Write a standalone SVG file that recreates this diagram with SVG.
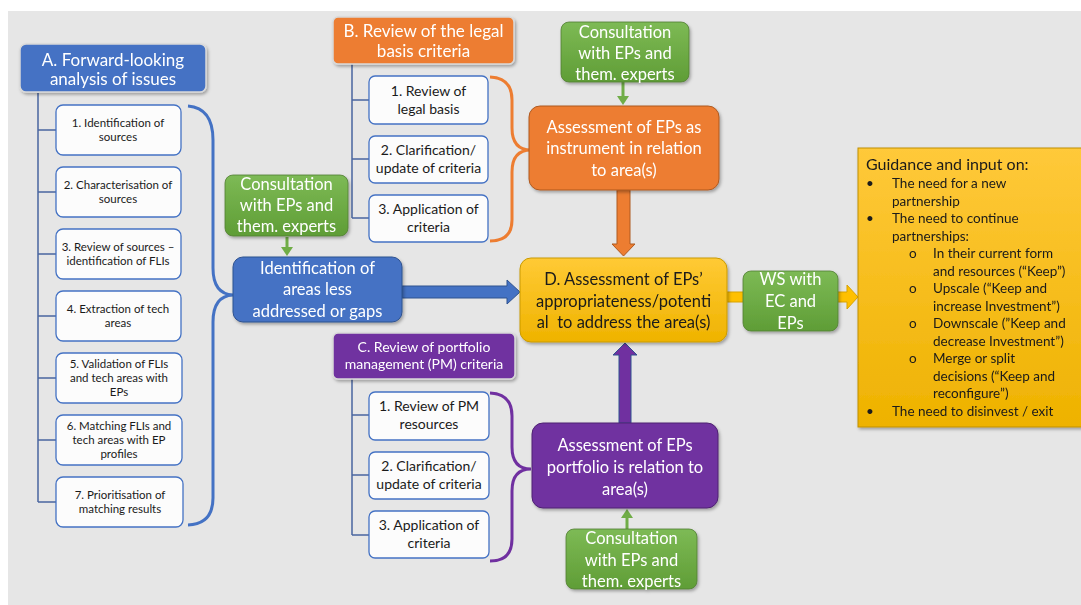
<svg xmlns="http://www.w3.org/2000/svg" width="1081" height="605" viewBox="0 0 1081 605">
<defs>
<linearGradient id="gGreen" x1="0" y1="0" x2="0" y2="1"><stop offset="0" stop-color="#7dba55"/><stop offset="1" stop-color="#5f9d36"/></linearGradient>
<linearGradient id="gYellow" x1="0" y1="0" x2="0" y2="1"><stop offset="0" stop-color="#ffca35"/><stop offset="1" stop-color="#efb300"/></linearGradient>
<linearGradient id="gGuide" x1="0" y1="0" x2="0" y2="1"><stop offset="0" stop-color="#ffc93a"/><stop offset="1" stop-color="#eeb200"/></linearGradient>
<filter id="sh" x="-10%" y="-10%" width="125%" height="130%"><feDropShadow dx="1.5" dy="2" stdDeviation="1.5" flood-color="#000" flood-opacity="0.3"/></filter>
<style>
text{font-family:Lato,"Liberation Sans",sans-serif;text-anchor:middle}
.w{fill:#fff}
.k{fill:#1a1a1a}
.blue{fill:#4472c4;stroke:#2f528f;stroke-width:1}
.orange{fill:#ed7d31;stroke:#ae5a21;stroke-width:1}
.purple{fill:#7030a0;stroke:#4e2272;stroke-width:1}
.green{fill:url(#gGreen);stroke:#507e32;stroke-width:0.8}
.hdr{stroke:#d9d9d9;stroke-width:1.5}
.sbox{fill:#fcfcfc;stroke:#4472c4;stroke-width:1.3}
.tree{fill:none;stroke:#4a66a0;stroke-width:1.5}
.f17{font-size:17px}
.f16{font-size:16.5px}
.f14{font-size:14px}
.f11{font-size:11.5px}
.g{font-size:13.5px;text-anchor:start;fill:#1a1a1a}
</style>
</defs>
<rect x="0" y="0" width="1081" height="605" fill="#ffffff"/>
<rect x="8" y="11" width="1073" height="594" fill="#e6e6e6"/>

<g id="connectors">
<path class="tree" d="M38,93 V502 M38,130 H56 M38,192 H56 M38,254 H56 M38,316 H56 M38,378 H56 M38,440 H56 M38,502 H56"/>
<path class="tree" d="M352,64 V218 M352,100 H369 M352,159 H369 M352,218 H369"/>
<path class="tree" d="M352,379 V535 M352,415 H369 M352,475 H369 M352,535 H369"/>
<path d="M188,106 Q213,108 213,140 V268 Q213,294 233,295 Q213,296 213,322 V498 Q213,524 188,525" fill="none" stroke="#4472c4" stroke-width="3"/>
<path d="M490,77 Q512,78 512,100 V128 Q512,150 531,150 Q512,150 512,172 V220 Q512,241 490,241" fill="none" stroke="#ed7d31" stroke-width="3"/>
<path d="M490,393 Q512,394 512,416 V447 Q512,469 531,469 Q512,469 512,491 V539 Q512,561 490,561" fill="none" stroke="#7030a0" stroke-width="3"/>
<polygon points="402,286 507,286 507,280 520,292 507,304 507,298 402,298" fill="#4472c4" stroke="#2f528f" stroke-width="1"/>
<polygon points="617,190 630,190 630,244 635,244 623.5,256 612,244 617,244" fill="#ed7d31" stroke="#ae5a21" stroke-width="1"/>
<polygon points="619,423 631,423 631,355 637,355 625,343 613,355 619,355" fill="#7030a0" stroke="#2f528f" stroke-width="1"/>
<polygon points="727,292 847,292 847,285 858,297 847,309 847,302 727,302" fill="#ffc000" stroke="#d9a300" stroke-width="1"/>
<path d="M287,237 V248 M623,82 V97 M627,529 V517" stroke="#70ad47" stroke-width="3" fill="none"/>
<polygon points="281,247 293,247 287,256" fill="#70ad47"/>
<polygon points="617,96 629,96 623,105" fill="#70ad47"/>
<polygon points="621,518 633,518 627,509" fill="#70ad47"/>
</g>

<g id="nodeA" filter="url(#sh)">
<rect x="20" y="44" width="186" height="48" rx="6" class="blue hdr"/>
<text class="w f17" x="113" y="66">A. Forward-looking</text>
<text class="w f17" x="113" y="85">analysis of issues</text>
</g>
<g id="a1"><rect x="56" y="105" width="125" height="50" rx="7" class="sbox"/><text class="k f11" x="118" y="127">1. Identification of</text><text class="k f11" x="118" y="141">sources</text></g>
<g id="a2"><rect x="56" y="167" width="125" height="50" rx="7" class="sbox"/><text class="k f11" x="118" y="189">2. Characterisation of</text><text class="k f11" x="118" y="203">sources</text></g>
<g id="a3"><rect x="56" y="229" width="125" height="50" rx="7" class="sbox"/><text class="k f11" x="118" y="251">3. Review of sources –</text><text class="k f11" x="118" y="265">identification of FLIs</text></g>
<g id="a4"><rect x="56" y="291" width="125" height="50" rx="7" class="sbox"/><text class="k f11" x="118" y="313">4. Extraction of tech</text><text class="k f11" x="118" y="327">areas</text></g>
<g id="a5"><rect x="56" y="353" width="126" height="50" rx="7" class="sbox"/><text class="k f11" x="119" y="368">5. Validation of FLIs</text><text class="k f11" x="119" y="382">and tech areas with</text><text class="k f11" x="119" y="396">EPs</text></g>
<g id="a6"><rect x="56" y="415" width="126" height="50" rx="7" class="sbox"/><text class="k f11" x="119" y="430">6. Matching FLIs and</text><text class="k f11" x="119" y="444">tech areas with EP</text><text class="k f11" x="119" y="458">profiles</text></g>
<g id="a7"><rect x="56" y="477" width="127" height="50" rx="7" class="sbox"/><text class="k f11" x="120" y="499">7. Prioritisation of</text><text class="k f11" x="120" y="513">matching results</text></g>

<g id="consultLeft" filter="url(#sh)">
<rect x="225" y="175" width="123" height="61" rx="8" class="green"/>
<text class="w f16" x="286.5" y="190">Consultation</text>
<text class="w f16" x="286.5" y="211">with EPs and</text>
<text class="w f16" x="286.5" y="232">them. experts</text>
</g>
<g id="identification" filter="url(#sh)">
<rect x="233" y="257" width="169" height="65" rx="10" class="blue"/>
<text class="w f16" x="317.5" y="274">Identification of</text>
<text class="w f16" x="317.5" y="295">areas less</text>
<text class="w f16" x="317.5" y="317">addressed or gaps</text>
</g>

<g id="nodeB" filter="url(#sh)">
<rect x="333" y="17" width="181" height="47" rx="5" class="orange hdr"/>
<text class="w f17" x="423.5" y="37">B. Review of the legal</text>
<text class="w f17" x="423.5" y="57">basis criteria</text>
</g>
<g id="b1"><rect x="369" y="76" width="119" height="48" rx="6" class="sbox"/><text class="k f14" x="428.5" y="96">1. Review of</text><text class="k f14" x="428.5" y="114">legal basis</text></g>
<g id="b2"><rect x="369" y="136" width="119" height="47" rx="6" class="sbox"/><text class="k f14" x="428.5" y="155">2. Clarification/</text><text class="k f14" x="428.5" y="173">update of criteria</text></g>
<g id="b3"><rect x="369" y="195" width="119" height="47" rx="6" class="sbox"/><text class="k f14" x="428.5" y="214">3. Application of</text><text class="k f14" x="428.5" y="232">criteria</text></g>

<g id="consultTop" filter="url(#sh)">
<rect x="561" y="22" width="128" height="60" rx="8" class="green"/>
<text class="w f16" x="625" y="38">Consultation</text>
<text class="w f16" x="625" y="59">with EPs and</text>
<text class="w f16" x="625" y="80">them. experts</text>
</g>
<g id="assessInstrument" filter="url(#sh)">
<rect x="529" y="106" width="190" height="84" rx="11" class="orange"/>
<text class="w f16" x="624" y="133">Assessment of EPs as</text>
<text class="w f16" x="624" y="154">instrument in relation</text>
<text class="w f16" x="624" y="176">to area(s)</text>
</g>

<g id="nodeD" filter="url(#sh)">
<rect x="520" y="258" width="207" height="84" rx="11" fill="url(#gYellow)" stroke="#c99a00" stroke-width="1"/>
<text class="k f16" x="623.5" y="285">D. Assessment of EPs’</text>
<text class="k f16" x="623.5" y="307">appropriateness/potenti</text>
<text class="k f16" x="623.5" y="328" xml:space="preserve">al  to address the area(s)</text>
</g>
<g id="ws" filter="url(#sh)">
<rect x="743" y="271" width="95" height="60" rx="8" class="green"/>
<text class="w f16" x="790.5" y="285">WS with</text>
<text class="w f16" x="790.5" y="307">EC and</text>
<text class="w f16" x="790.5" y="329">EPs</text>
</g>

<g id="nodeC" filter="url(#sh)">
<rect x="333" y="333" width="182" height="46" rx="5" class="purple hdr"/>
<text class="w f14" x="424" y="352">C. Review of portfolio</text>
<text class="w f14" x="424" y="369">management (PM) criteria</text>
</g>
<g id="c1"><rect x="369" y="392" width="120" height="48" rx="6" class="sbox"/><text class="k f14" x="429" y="411">1. Review of PM</text><text class="k f14" x="429" y="429">resources</text></g>
<g id="c2"><rect x="369" y="452" width="120" height="47" rx="6" class="sbox"/><text class="k f14" x="429" y="471">2. Clarification/</text><text class="k f14" x="429" y="489">update of criteria</text></g>
<g id="c3"><rect x="369" y="511" width="120" height="47" rx="6" class="sbox"/><text class="k f14" x="429" y="530">3. Application of</text><text class="k f14" x="429" y="548">criteria</text></g>

<g id="assessPortfolio" filter="url(#sh)">
<rect x="532" y="423" width="186" height="85" rx="11" class="purple"/>
<text class="w f16" x="625" y="451">Assessment of EPs</text>
<text class="w f16" x="625" y="473">portfolio is relation to</text>
<text class="w f16" x="625" y="495">area(s)</text>
</g>
<g id="consultBottom" filter="url(#sh)">
<rect x="566" y="529" width="131" height="60" rx="8" class="green"/>
<text class="w f16" x="631.5" y="544">Consultation</text>
<text class="w f16" x="631.5" y="566">with EPs and</text>
<text class="w f16" x="631.5" y="587">them. experts</text>
</g>

<g id="guidance" filter="url(#sh)">
<rect x="858" y="148" width="225" height="279" fill="url(#gGuide)" stroke="#c09000" stroke-width="1"/>
<text x="866" y="170" style="font-size:16px;text-anchor:start;fill:#1a1a1a">Guidance and input on:</text>
<text class="g" x="866" y="188">•</text><text class="g" x="892" y="188">The need for a new</text>
<text class="g" x="892" y="206">partnership</text>
<text class="g" x="866" y="223">•</text><text class="g" x="892" y="223">The need to continue</text>
<text class="g" x="892" y="241">partnerships:</text>
<text class="g" x="909" y="258">o</text><text class="g" x="933" y="258">In their current form</text>
<text class="g" x="933" y="276">and resources (“Keep”)</text>
<text class="g" x="909" y="293">o</text><text class="g" x="933" y="293">Upscale (“Keep and</text>
<text class="g" x="933" y="311">increase Investment”)</text>
<text class="g" x="909" y="328">o</text><text class="g" x="933" y="328">Downscale (”Keep and</text>
<text class="g" x="933" y="346">decrease Investment”)</text>
<text class="g" x="909" y="363">o</text><text class="g" x="933" y="363">Merge or split</text>
<text class="g" x="933" y="381">decisions (“Keep and</text>
<text class="g" x="933" y="398">reconfigure”)</text>
<text class="g" x="866" y="416">•</text><text class="g" x="892" y="416">The need to disinvest / exit</text>
</g>
</svg>
